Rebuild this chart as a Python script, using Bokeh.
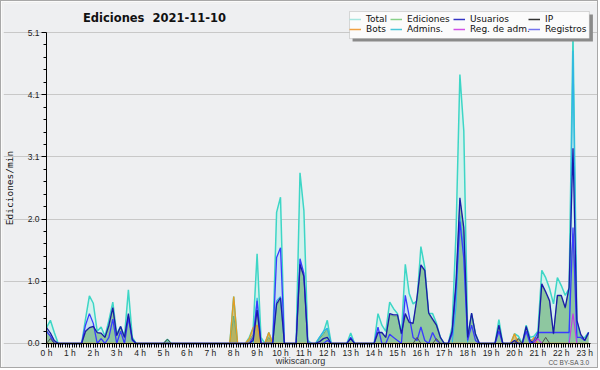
from bokeh.plotting import figure
from bokeh.models import (FixedTicker, Label, Legend, LegendItem, BoxAnnotation,
                          ColumnDataSource, Range1d)
from bokeh.embed import file_html
from bokeh.resources import INLINE

# ---- data: 10-minute bins, edits per minute ----
hours = [i / 6 for i in range(140)]

total = [
    0.26, 0.38, 0.18, 0, 0, 0,
    0, 0, 0, 0, 0.40, 0.78,
    0.66, 0.20, 0.27, 0.12, 0.38, 0.68,
    0.16, 0.28, 0.12, 0.88, 0.10, 0,
    0, 0, 0, 0, 0, 0,
    0, 0.07, 0, 0, 0, 0,
    0, 0, 0, 0, 0, 0,
    0, 0, 0, 0, 0, 0,
    0.77, 0, 0, 0, 0.10, 0.26,
    1.47, 0.10, 0, 0.18, 0, 2.15,
    2.40, 0, 0, 0, 0, 2.80,
    2.18, 0.05, 0, 0, 0.10, 0.18,
    0.38, 0, 0, 0, 0, 0,
    0.17, 0, 0, 0, 0, 0,
    0, 0.49, 0.30, 0.20, 0.68, 0.57,
    0.49, 0.15, 1.30, 0.82, 0.65, 0.70,
    1.59, 1.25, 0.49, 0.49, 0.33, 0.10,
    0, 0, 0.27, 1.80, 4.41, 3.49,
    0.10, 0.49, 0.16, 0, 0, 0,
    0, 0, 0.39, 0, 0, 0,
    0.16, 0.12, 0, 0.30, 0.10, 0.12,
    0.20, 1.20, 1.08, 0.90, 0.65, 1.08,
    0.95, 0.79, 0.90, 5.10, 0.37, 0.10,
    0.10, 0.18]

ediciones = [
    0.22, 0.12, 0.03, 0, 0, 0,
    0, 0, 0, 0, 0.18, 0.25,
    0.27, 0.17, 0.16, 0.09, 0.28, 0.57,
    0.12, 0.27, 0.09, 0.47, 0.06, 0,
    0, 0, 0, 0, 0, 0,
    0, 0.07, 0, 0, 0, 0,
    0, 0, 0, 0, 0, 0,
    0, 0, 0, 0, 0, 0,
    0.45, 0, 0, 0, 0.05, 0.15,
    0.55, 0, 0, 0.10, 0, 0.62,
    0.72, 0, 0, 0, 0, 1.28,
    1.08, 0, 0, 0, 0.08, 0.15,
    0.25, 0, 0, 0, 0, 0,
    0.08, 0, 0, 0, 0, 0,
    0, 0.17, 0.17, 0.09, 0.47, 0.45,
    0.45, 0.15, 0.47, 0.33, 0.32, 0.72,
    1.27, 1.18, 0.48, 0.38, 0.29, 0.09,
    0, 0, 0.18, 0.95, 2.35, 1.85,
    0.08, 0.48, 0.14, 0, 0, 0,
    0, 0, 0.28, 0, 0, 0,
    0.05, 0.08, 0, 0.26, 0.05, 0.08,
    0.10, 0.95, 0.83, 0.68, 0.15, 0.77,
    0.77, 0.57, 0.90, 1.80, 0.35, 0.12,
    0.04, 0.15]

usuarios = [
    0.26, 0.17, 0.05, 0, 0, 0,
    0, 0, 0, 0, 0.20, 0.26,
    0.28, 0.18, 0.17, 0.10, 0.30, 0.59,
    0.13, 0.28, 0.10, 0.49, 0.07, 0,
    0, 0, 0, 0, 0, 0,
    0, 0, 0, 0, 0, 0,
    0, 0, 0, 0, 0, 0,
    0, 0, 0, 0, 0, 0,
    0, 0, 0, 0, 0, 0.05,
    0.55, 0, 0, 0, 0, 0.65,
    0.75, 0, 0, 0, 0, 1.30,
    1.10, 0, 0, 0, 0.03, 0.08,
    0.10, 0, 0, 0, 0, 0,
    0.08, 0, 0, 0, 0, 0,
    0, 0.18, 0.18, 0.10, 0.49, 0.47,
    0.47, 0.16, 0.49, 0.35, 0.33, 0.75,
    1.29, 1.20, 0.50, 0.40, 0.30, 0.10,
    0, 0, 0.20, 1.00, 2.39, 1.90,
    0.10, 0.50, 0.15, 0, 0, 0,
    0, 0, 0.30, 0, 0, 0,
    0.05, 0, 0, 0.28, 0.05, 0,
    0.10, 0.98, 0.85, 0.70, 0.16, 0.79,
    0.79, 0.59, 0.92, 3.20, 0.38, 0.15,
    0.05, 0.18]

registros = [
    0.20, 0.12, 0, 0, 0, 0,
    0, 0, 0, 0, 0.30, 0.49,
    0.33, 0, 0.08, 0, 0.10, 0.40,
    0, 0.20, 0, 0.42, 0.05, 0,
    0, 0, 0, 0, 0, 0,
    0, 0, 0, 0, 0, 0,
    0, 0, 0, 0, 0, 0,
    0, 0, 0, 0, 0, 0,
    0, 0, 0, 0, 0, 0.10,
    0.70, 0, 0, 0, 0, 1.41,
    1.57, 0, 0, 0, 0, 1.39,
    1.15, 0, 0, 0, 0, 0,
    0.05, 0, 0, 0, 0, 0,
    0.10, 0, 0, 0, 0, 0,
    0, 0.27, 0, 0, 0.15, 0.10,
    0.05, 0, 0.79, 0.45, 0.10, 0.05,
    0.27, 0.05, 0, 0.18, 0.05, 0,
    0, 0, 0.15, 0.90, 2.00, 1.40,
    0.05, 0.30, 0.05, 0, 0, 0,
    0, 0, 0.20, 0, 0, 0,
    0, 0, 0, 0.20, 0, 0.05,
    0.18, 0.18, 0.18, 0.18, 0.18, 0.18,
    0.18, 0.18, 0.18, 1.90, 0.10, 0.10,
    0.05, 0.18]

admins = [0] * 54 + [0.75, 0, 0, 0, 0, 0.70, 0.77] + [0] * 9 + \
    [0.10, 0.20, 0.25] + [0] * 32 + [0.60, 2.10, 1.50] + [0] * 27 + \
    [4.80, 0, 0, 0, 0]

bots = [0] * 48 + [0.77, 0, 0, 0, 0.08, 0.26, 0.30, 0, 0, 0.18] + [0] * 62 + \
    [0.16, 0, 0, 0, 0, 0.10] + [0] * 14

ip = [0, 0.08] + [0] * 29 + [0.07] + [0] * 63 + [0.10, 0, 0, 0, 0, 0.08] + \
    [0] * 20 + [0.08, 0, 0, 0, 0, 0, 0, 0.10] + [0] * 11

reg_adm = [0] * 126 + [0.08, 0, 0, 0, 0, 0, 0, 0, 0, 0.49, 0, 0, 0, 0]

hour_ticks = list(range(24))
hour_labels = [f"{h} h" for h in hour_ticks]
y_ticks = [0, 1.02, 2.04, 3.06, 4.08, 5.1]
y_labels = ["0.0", "1.0", "2.0", "3.1", "4.1", "5.1"]
y_minor = [0.204, 0.408, 0.612, 0.816, 1.224, 1.428, 1.632, 1.836, 2.244, 2.448,
           2.652, 2.856, 3.264, 3.468, 3.672, 3.876, 4.284, 4.488, 4.692, 4.896]
x_minor = [k / 10 for k in range(0, 233)]

legend_cols = [["Total", "Bots"], ["Ediciones", "Admins."],
               ["Usuarios", "Reg. de adm."], ["IP", "Registros"]]
legend_colors = [["#a6e6df", "#f0a040"], ["#88d088", "#48c6d8"],
                 ["#3434c4", "#d050e6"], ["#333333", "#7474ee"]]

# ---- figure ----
p = figure(width=598, height=368, output_backend="svg", toolbar_location=None,
           x_range=Range1d(-1.8376, 23.590), y_range=Range1d(-0.4264, 5.5756),
           min_border_left=2, min_border_right=1, min_border_top=2,
           min_border_bottom=0)
p.styles = {"border": "1px solid #a8a8a8"}
p.background_fill_color = "#eeeff1"
p.border_fill_color = "#efefef"
p.outline_line_color = None

src = ColumnDataSource(dict(h=hours, total=total, ed=ediciones, us=usuarios,
                            reg=registros, adm=admins, bots=bots, ip=ip,
                            radm=reg_adm))

p.varea(x="h", y1=0, y2="total", source=src, fill_color="#d4f1ed", fill_alpha=1)
p.varea(x="h", y1=0, y2="reg", source=src, fill_color="#bcd9ee", fill_alpha=0.6)
p.varea(x="h", y1=0, y2="ed", source=src, fill_color="#86c297", fill_alpha=0.9)
p.varea(x="h", y1=0, y2="bots", source=src, fill_color="#d8a030", fill_alpha=0.55)
p.line(x="h", y="total", source=src, line_color="#3dd6c6", line_width=1.5)
p.line(x="h", y="ed", source=src, line_color="#6aae7c", line_width=1)
p.line(x="h", y="adm", source=src, line_color="#30b4e6", line_width=1.2)
p.line(x="h", y="bots", source=src, line_color="#e89a20", line_width=1.3)
p.line(x="h", y="reg", source=src, line_color="#3a3aff", line_width=1.3)
p.line(x="h", y="us", source=src, line_color="#1a1aa8", line_width=1.3)
p.line(x="h", y="ip", source=src, line_color="#505050", line_width=1)
p.line(x="h", y="radm", source=src, line_color="#c040e0", line_width=1.2)

# axes
xa = p.xaxis[0]
xa.fixed_location = 0
xa.bounds = (0, 23.25)
xa.ticker = FixedTicker(ticks=hour_ticks, minor_ticks=x_minor)
xa.major_label_overrides = {h: lbl for h, lbl in zip(hour_ticks, hour_labels)}
xa.major_tick_in = 0
xa.major_tick_out = 4
xa.minor_tick_in = 0
xa.minor_tick_out = 4
xa.major_label_standoff = 1
ya = p.yaxis[0]
ya.fixed_location = 0
ya.bounds = (0, 5.1)
ya.ticker = FixedTicker(ticks=y_ticks, minor_ticks=y_minor)
ya.major_label_overrides = {v: lbl for v, lbl in zip(y_ticks, y_labels)}
ya.major_tick_in = 0
ya.major_tick_out = 5
ya.minor_tick_in = 0
ya.minor_tick_out = 3
ya.major_label_standoff = 2
ya.axis_label = "Ediciones/min"
ya.axis_label_text_font = "DejaVu Sans Mono"
ya.axis_label_text_font_size = "9.5px"
ya.axis_label_text_font_style = "normal"
ya.axis_label_text_color = "#111111"
ya.axis_label_standoff = 10
for ax in (xa, ya):
    ax.axis_line_color = "black"
    ax.major_tick_line_color = "black"
    ax.minor_tick_line_color = "black"
    ax.major_label_text_font = "Liberation Sans"
    ax.major_label_text_font_size = "8.5px"
    ax.major_label_text_color = "#222222"
p.xgrid.visible = False
p.ygrid.ticker = FixedTicker(ticks=y_ticks)
p.ygrid.bounds = (0, 23.25)
p.ygrid.grid_line_color = "#c8c8c8"

# texts (data coordinates inside the frame)
p.add_layout(Label(x=4.615, y=5.346, text="Ediciones \u00a02021-11-10",
                   text_align="center", text_baseline="middle",
                   text_font="DejaVu Sans", text_font_style="bold",
                   text_font_size="11.5px", text_color="#111111"))
p.add_layout(Label(x=10.855, y=-0.295, text="wikiscan.org", text_align="center",
                   text_baseline="middle", text_font="Liberation Sans",
                   text_font_size="9px", text_color="#333333"))
p.add_layout(Label(x=23.2, y=-0.31, text="CC BY-SA 3.0", text_align="right",
                   text_baseline="middle", text_font="Liberation Sans",
                   text_font_size="6.5px", text_color="#555555"))

# legend box with shadow
p.add_layout(BoxAnnotation(left=13.08, right=23.35, bottom=4.951, top=5.395,
                           fill_color="#8a8a8a", fill_alpha=1, line_color=None))
p.add_layout(BoxAnnotation(left=12.95, right=23.2, bottom=5.0, top=5.444,
                           fill_color="#fbfbfb", fill_alpha=1,
                           line_color="#8a8a8a", line_width=1))

col_x = [346, 387, 450, 525]
for labels, colors, vx in zip(legend_cols, legend_colors, col_x):
    items = []
    for lbl, col in zip(labels, colors):
        r = p.line(x=[-5, -4], y=[-5, -5], line_color=col, line_width=1.5)
        items.append(LegendItem(label=lbl, renderers=[r]))
    leg = Legend(items=items, location=(vx, 334.6), orientation="vertical",
                 label_text_font="DejaVu Sans", label_text_font_size="9px",
                 label_text_color="#111111", glyph_width=12, glyph_height=10,
                 label_height=10, label_standoff=5, spacing=0, padding=0,
                 margin=0, border_line_color=None, background_fill_alpha=0)
    p.add_layout(leg, "center")

open("out.html", "w").write(file_html(p, INLINE))
